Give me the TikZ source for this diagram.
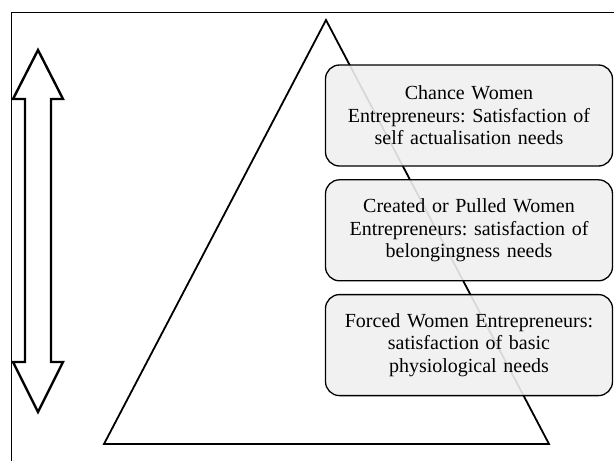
\documentclass[tikz,border=0pt]{standalone}
\usepackage{fontspec}
\setmainfont{Liberation Serif}
\usetikzlibrary{positioning}
\frenchspacing
\tikzstyle{stage}=[draw=black,line width=1.3pt,rounded corners=14pt,fill=black!6,fill opacity=0.9,text opacity=1,
  minimum width=287pt,minimum height=101pt,text width=274pt,align=center,
  font=\fontsize{20}{22.5}\selectfont]
\tikzstyle{outline}=[line width=1.8pt,line join=miter]

\begin{document}
\begin{tikzpicture}[x=1pt,y=-1pt]
\useasboundingbox (0,0) rectangle (614,461);

%frame
    \draw[line width=1pt] (11,461) -- (11,12.5) -- (614,12.5);

%double arrow
    \draw[outline,line width=2.4pt] (38,50) -- (63,99) -- (51,99) -- (51,362) -- (63,362) -- (38,412)
        -- (13,362) -- (25,362) -- (25,99) -- (13,99) -- cycle;

%pyramid
    \coordinate (apex) at (326,20);
    \coordinate (baseL) at (104,444);
    \coordinate (baseR) at (549,444);
    \draw[outline] (apex) -- (baseR) -- (baseL) -- cycle;

%levels
    \node[stage] (chance) at (469,115.5) {Chance Women\\Entrepreneurs: Satisfaction of\\self actualisation needs};
    \node[stage,below=12.5pt of chance] (created) {Created or Pulled Women\\Entrepreneurs: satisfaction of\\belongingness needs};
    \node[stage,below=12.5pt of created] (forced) {Forced Women Entrepreneurs:\\satisfaction of basic\\physiological needs};

\end{tikzpicture}
\end{document}
